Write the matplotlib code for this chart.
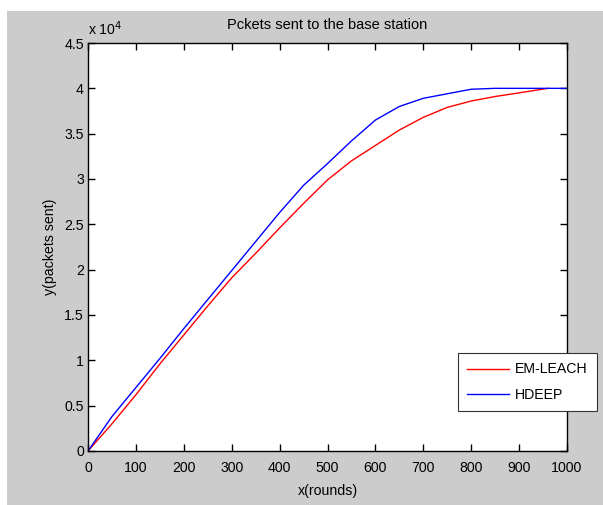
import matplotlib.pyplot as plt
from matplotlib.patches import Rectangle

# rounds and packets sent (in units of 10^4)
rounds = [0, 50, 100, 150, 200, 250, 300, 350, 400, 450, 500, 550, 600,
          650, 700, 750, 800, 850, 900, 950, 1000]
hdeep = [0.0, 0.38, 0.70, 1.02, 1.35, 1.67, 1.99, 2.31, 2.63, 2.93, 3.17,
         3.42, 3.65, 3.80, 3.89, 3.94, 3.99, 4.0, 4.0, 4.0, 4.0]
em_rounds = [0, 50, 100, 150, 200, 250, 300, 350, 400, 450, 500, 550, 600,
             650, 700, 750, 800, 850, 900, 960]
em_leach = [0.0, 0.30, 0.62, 0.96, 1.28, 1.60, 1.91, 2.18, 2.46, 2.73, 2.99,
            3.20, 3.37, 3.54, 3.68, 3.79, 3.86, 3.91, 3.95, 4.0]

x_ticks = list(range(0, 1001, 100))
y_ticks = [0, 0.5, 1, 1.5, 2, 2.5, 3, 3.5, 4, 4.5]
y_tick_labels = ["0", "0.5", "1", "1.5", "2", "2.5", "3", "3.5", "4", "4.5"]

plt.rcParams["font.family"] = ["Liberation Sans", "DejaVu Sans"]
FS = 10.2

fig = plt.figure(figsize=(6.03, 5.05), dpi=100, facecolor="white")
# grey MATLAB-style figure background
fig.add_artist(Rectangle((7 / 603, 0), 596 / 603, 494 / 505,
                         transform=fig.transFigure, facecolor="#cccccc",
                         edgecolor="none", zorder=-10))

ax = fig.add_axes([88 / 603, 54 / 505, 479 / 603, 408 / 505])
ax.plot(em_rounds, em_leach, color="#ff0000", linewidth=1.0, label="EM-LEACH")
ax.plot(rounds, hdeep, color="#0000ff", linewidth=1.0, label="HDEEP")

ax.set_xlim(0, 1000)
ax.set_ylim(0, 4.5)
ax.set_xticks(x_ticks)
ax.set_yticks(y_ticks)
ax.set_yticklabels(y_tick_labels)
ax.tick_params(direction="in", length=5, width=1, top=True, right=True,
               labelsize=FS, colors="black")
ax.tick_params(axis="x", pad=7)
ax.tick_params(axis="y", pad=3)
for spine in ax.spines.values():
    spine.set_linewidth(1.0)

fig.text(327 / 603, 1 - 25 / 505, "Pckets sent to the base station",
         fontsize=FS + 0.3, ha="center", va="center")
ax.set_xlabel("x(rounds)", fontsize=FS, va="center")
ax.xaxis.set_label_coords(0.5, (451 - 491) / 408)
ax.set_ylabel("y(packets sent)", fontsize=FS, va="center")
ax.yaxis.set_label_coords((50 - 88) / 479, 0.5)
ax.text(0.0, (451 - 35) / 408, "x 10$^{4}$", transform=ax.transAxes,
        fontsize=FS, ha="left", va="baseline")

leg = ax.legend(loc="lower left", bbox_to_anchor=(0.772, 0.098),
                borderaxespad=0, fontsize=FS, handlelength=3.0,
                handletextpad=0.4, labelspacing=0.8, borderpad=0.65,
                fancybox=False, framealpha=1)
leg.get_frame().set_edgecolor("#333333")
leg.get_frame().set_linewidth(0.8)

fig.savefig("out.png", dpi=100, facecolor="white")
